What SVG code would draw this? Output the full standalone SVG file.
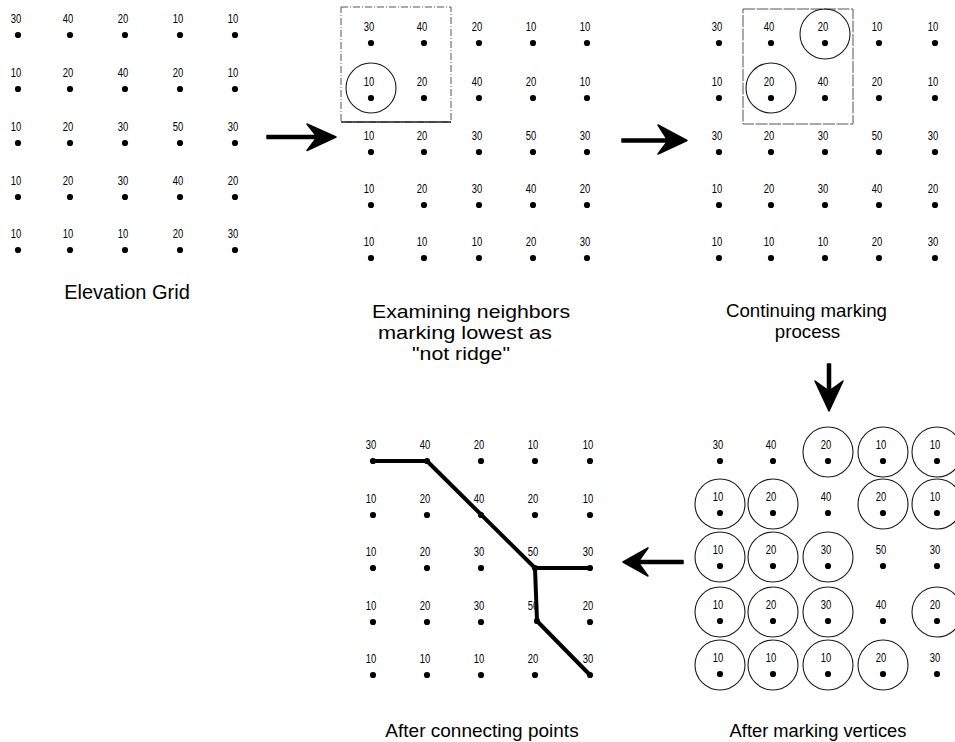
<svg xmlns="http://www.w3.org/2000/svg" width="955" height="742" viewBox="0 0 955 742">
  <style>
    text { font-family: "Liberation Sans", Arial, sans-serif; fill: #000; }
    .n { font-size: 12.5px; text-anchor: middle; }
    .cap { font-size: 19px; text-anchor: middle; }
    .d { fill: #000; }
    .mark { fill: none; stroke: #1a1a1a; stroke-width: 1.1; }
    .box { fill: none; stroke: #555; stroke-width: 1; stroke-dasharray: 7 2 1 2; }
    .ridge { fill: none; stroke: #000; stroke-width: 4; stroke-linecap: round; stroke-linejoin: round; }
    .arrow { fill: #000; stroke: #000; stroke-width: 1.5; stroke-linejoin: round; }
  </style>

  <!-- Grid 1: raw elevation values -->
  <g id="grid-elevation">
    <g class="vals">
      <text class="n" x="16" y="23" textLength="10.5" lengthAdjust="spacingAndGlyphs">30</text>
      <text class="n" x="68" y="23" textLength="10.5" lengthAdjust="spacingAndGlyphs">40</text>
      <text class="n" x="123" y="23" textLength="10.5" lengthAdjust="spacingAndGlyphs">20</text>
      <text class="n" x="178" y="23" textLength="10.5" lengthAdjust="spacingAndGlyphs">10</text>
      <text class="n" x="233" y="23" textLength="10.5" lengthAdjust="spacingAndGlyphs">10</text>
      <text class="n" x="16" y="77" textLength="10.5" lengthAdjust="spacingAndGlyphs">10</text>
      <text class="n" x="68" y="77" textLength="10.5" lengthAdjust="spacingAndGlyphs">20</text>
      <text class="n" x="123" y="77" textLength="10.5" lengthAdjust="spacingAndGlyphs">40</text>
      <text class="n" x="178" y="77" textLength="10.5" lengthAdjust="spacingAndGlyphs">20</text>
      <text class="n" x="233" y="77" textLength="10.5" lengthAdjust="spacingAndGlyphs">10</text>
      <text class="n" x="16" y="131" textLength="10.5" lengthAdjust="spacingAndGlyphs">10</text>
      <text class="n" x="68" y="131" textLength="10.5" lengthAdjust="spacingAndGlyphs">20</text>
      <text class="n" x="123" y="131" textLength="10.5" lengthAdjust="spacingAndGlyphs">30</text>
      <text class="n" x="178" y="131" textLength="10.5" lengthAdjust="spacingAndGlyphs">50</text>
      <text class="n" x="233" y="131" textLength="10.5" lengthAdjust="spacingAndGlyphs">30</text>
      <text class="n" x="16" y="185" textLength="10.5" lengthAdjust="spacingAndGlyphs">10</text>
      <text class="n" x="68" y="185" textLength="10.5" lengthAdjust="spacingAndGlyphs">20</text>
      <text class="n" x="123" y="185" textLength="10.5" lengthAdjust="spacingAndGlyphs">30</text>
      <text class="n" x="178" y="185" textLength="10.5" lengthAdjust="spacingAndGlyphs">40</text>
      <text class="n" x="233" y="185" textLength="10.5" lengthAdjust="spacingAndGlyphs">20</text>
      <text class="n" x="16" y="238" textLength="10.5" lengthAdjust="spacingAndGlyphs">10</text>
      <text class="n" x="68" y="238" textLength="10.5" lengthAdjust="spacingAndGlyphs">10</text>
      <text class="n" x="123" y="238" textLength="10.5" lengthAdjust="spacingAndGlyphs">10</text>
      <text class="n" x="178" y="238" textLength="10.5" lengthAdjust="spacingAndGlyphs">20</text>
      <text class="n" x="233" y="238" textLength="10.5" lengthAdjust="spacingAndGlyphs">30</text>
    </g>
    <g class="dots">
      <circle class="d" cx="18" cy="35" r="3.1"/><circle class="d" cx="70" cy="35" r="3.1"/><circle class="d" cx="125" cy="35" r="3.1"/><circle class="d" cx="180" cy="35" r="3.1"/><circle class="d" cx="235" cy="35" r="3.1"/>
      <circle class="d" cx="18" cy="89" r="3.1"/><circle class="d" cx="70" cy="89" r="3.1"/><circle class="d" cx="125" cy="89" r="3.1"/><circle class="d" cx="180" cy="89" r="3.1"/><circle class="d" cx="235" cy="89" r="3.1"/>
      <circle class="d" cx="18" cy="143" r="3.1"/><circle class="d" cx="70" cy="143" r="3.1"/><circle class="d" cx="125" cy="143" r="3.1"/><circle class="d" cx="180" cy="143" r="3.1"/><circle class="d" cx="235" cy="143" r="3.1"/>
      <circle class="d" cx="18" cy="197" r="3.1"/><circle class="d" cx="70" cy="197" r="3.1"/><circle class="d" cx="125" cy="197" r="3.1"/><circle class="d" cx="180" cy="197" r="3.1"/><circle class="d" cx="235" cy="197" r="3.1"/>
      <circle class="d" cx="18" cy="250" r="3.1"/><circle class="d" cx="70" cy="250" r="3.1"/><circle class="d" cx="125" cy="250" r="3.1"/><circle class="d" cx="180" cy="250" r="3.1"/><circle class="d" cx="235" cy="250" r="3.1"/>
    </g>
    <text class="cap" x="127" y="299" style="font-size:20px">Elevation Grid</text>
  </g>

  <!-- Grid 2: first 2x2 window, lowest point marked -->
  <g id="grid-examine">
    <rect class="box" x="341" y="7" width="110" height="115"/>
    <line x1="341" y1="122" x2="451" y2="122" stroke="#222" stroke-width="1.3"/>
    <circle class="mark" cx="371" cy="88" r="25"/>
    <g class="vals">
      <text class="n" x="369" y="31" textLength="10.5" lengthAdjust="spacingAndGlyphs">30</text>
      <text class="n" x="422" y="31" textLength="10.5" lengthAdjust="spacingAndGlyphs">40</text>
      <text class="n" x="477" y="31" textLength="10.5" lengthAdjust="spacingAndGlyphs">20</text>
      <text class="n" x="531" y="31" textLength="10.5" lengthAdjust="spacingAndGlyphs">10</text>
      <text class="n" x="585" y="31" textLength="10.5" lengthAdjust="spacingAndGlyphs">10</text>
      <text class="n" x="369" y="86" textLength="10.5" lengthAdjust="spacingAndGlyphs">10</text>
      <text class="n" x="422" y="86" textLength="10.5" lengthAdjust="spacingAndGlyphs">20</text>
      <text class="n" x="477" y="86" textLength="10.5" lengthAdjust="spacingAndGlyphs">40</text>
      <text class="n" x="531" y="86" textLength="10.5" lengthAdjust="spacingAndGlyphs">20</text>
      <text class="n" x="585" y="86" textLength="10.5" lengthAdjust="spacingAndGlyphs">10</text>
      <text class="n" x="369" y="140" textLength="10.5" lengthAdjust="spacingAndGlyphs">10</text>
      <text class="n" x="422" y="140" textLength="10.5" lengthAdjust="spacingAndGlyphs">20</text>
      <text class="n" x="477" y="140" textLength="10.5" lengthAdjust="spacingAndGlyphs">30</text>
      <text class="n" x="531" y="140" textLength="10.5" lengthAdjust="spacingAndGlyphs">50</text>
      <text class="n" x="585" y="140" textLength="10.5" lengthAdjust="spacingAndGlyphs">30</text>
      <text class="n" x="369" y="193" textLength="10.5" lengthAdjust="spacingAndGlyphs">10</text>
      <text class="n" x="422" y="193" textLength="10.5" lengthAdjust="spacingAndGlyphs">20</text>
      <text class="n" x="477" y="193" textLength="10.5" lengthAdjust="spacingAndGlyphs">30</text>
      <text class="n" x="531" y="193" textLength="10.5" lengthAdjust="spacingAndGlyphs">40</text>
      <text class="n" x="585" y="193" textLength="10.5" lengthAdjust="spacingAndGlyphs">20</text>
      <text class="n" x="369" y="246" textLength="10.5" lengthAdjust="spacingAndGlyphs">10</text>
      <text class="n" x="422" y="246" textLength="10.5" lengthAdjust="spacingAndGlyphs">10</text>
      <text class="n" x="477" y="246" textLength="10.5" lengthAdjust="spacingAndGlyphs">10</text>
      <text class="n" x="531" y="246" textLength="10.5" lengthAdjust="spacingAndGlyphs">20</text>
      <text class="n" x="585" y="246" textLength="10.5" lengthAdjust="spacingAndGlyphs">30</text>
    </g>
    <g class="dots">
      <circle class="d" cx="371" cy="98" r="3.1"/><circle class="d" cx="424" cy="98" r="3.1"/><circle class="d" cx="479" cy="98" r="3.1"/><circle class="d" cx="533" cy="98" r="3.1"/><circle class="d" cx="587" cy="98" r="3.1"/>
      <circle class="d" cx="371" cy="43" r="3.1"/><circle class="d" cx="424" cy="43" r="3.1"/><circle class="d" cx="479" cy="43" r="3.1"/><circle class="d" cx="533" cy="43" r="3.1"/><circle class="d" cx="587" cy="43" r="3.1"/>
      <circle class="d" cx="371" cy="152" r="3.1"/><circle class="d" cx="424" cy="152" r="3.1"/><circle class="d" cx="479" cy="152" r="3.1"/><circle class="d" cx="533" cy="152" r="3.1"/><circle class="d" cx="587" cy="152" r="3.1"/>
      <circle class="d" cx="371" cy="205" r="3.1"/><circle class="d" cx="424" cy="205" r="3.1"/><circle class="d" cx="479" cy="205" r="3.1"/><circle class="d" cx="533" cy="205" r="3.1"/><circle class="d" cx="587" cy="205" r="3.1"/>
      <circle class="d" cx="371" cy="258" r="3.1"/><circle class="d" cx="424" cy="258" r="3.1"/><circle class="d" cx="479" cy="258" r="3.1"/><circle class="d" cx="533" cy="258" r="3.1"/><circle class="d" cx="587" cy="258" r="3.1"/>
    </g>
    <text class="cap" x="471" y="318" textLength="198" lengthAdjust="spacingAndGlyphs">Examining neighbors</text>
    <text class="cap" x="465" y="339" textLength="174" lengthAdjust="spacingAndGlyphs">marking lowest as</text>
    <text class="cap" x="461" y="360" textLength="98" lengthAdjust="spacingAndGlyphs">"not ridge"</text>
  </g>

  <!-- Grid 3: window moved one column right -->
  <g id="grid-continue">
    <rect class="box" x="743" y="9" width="110" height="115" style="stroke-dasharray:12 1.5"/>
    <circle class="mark" cx="825" cy="34" r="25"/>
    <circle class="mark" cx="771" cy="88" r="25"/>
    <g class="vals">
      <text class="n" x="717" y="31" textLength="10.5" lengthAdjust="spacingAndGlyphs">30</text>
      <text class="n" x="769" y="31" textLength="10.5" lengthAdjust="spacingAndGlyphs">40</text>
      <text class="n" x="823" y="31" textLength="10.5" lengthAdjust="spacingAndGlyphs">20</text>
      <text class="n" x="877" y="31" textLength="10.5" lengthAdjust="spacingAndGlyphs">10</text>
      <text class="n" x="933" y="31" textLength="10.5" lengthAdjust="spacingAndGlyphs">10</text>
      <text class="n" x="717" y="86" textLength="10.5" lengthAdjust="spacingAndGlyphs">10</text>
      <text class="n" x="769" y="86" textLength="10.5" lengthAdjust="spacingAndGlyphs">20</text>
      <text class="n" x="823" y="86" textLength="10.5" lengthAdjust="spacingAndGlyphs">40</text>
      <text class="n" x="877" y="86" textLength="10.5" lengthAdjust="spacingAndGlyphs">20</text>
      <text class="n" x="933" y="86" textLength="10.5" lengthAdjust="spacingAndGlyphs">10</text>
      <text class="n" x="717" y="140" textLength="10.5" lengthAdjust="spacingAndGlyphs">30</text>
      <text class="n" x="769" y="140" textLength="10.5" lengthAdjust="spacingAndGlyphs">20</text>
      <text class="n" x="823" y="140" textLength="10.5" lengthAdjust="spacingAndGlyphs">30</text>
      <text class="n" x="877" y="140" textLength="10.5" lengthAdjust="spacingAndGlyphs">50</text>
      <text class="n" x="933" y="140" textLength="10.5" lengthAdjust="spacingAndGlyphs">30</text>
      <text class="n" x="717" y="193" textLength="10.5" lengthAdjust="spacingAndGlyphs">10</text>
      <text class="n" x="769" y="193" textLength="10.5" lengthAdjust="spacingAndGlyphs">20</text>
      <text class="n" x="823" y="193" textLength="10.5" lengthAdjust="spacingAndGlyphs">30</text>
      <text class="n" x="877" y="193" textLength="10.5" lengthAdjust="spacingAndGlyphs">40</text>
      <text class="n" x="933" y="193" textLength="10.5" lengthAdjust="spacingAndGlyphs">20</text>
      <text class="n" x="717" y="246" textLength="10.5" lengthAdjust="spacingAndGlyphs">10</text>
      <text class="n" x="769" y="246" textLength="10.5" lengthAdjust="spacingAndGlyphs">10</text>
      <text class="n" x="823" y="246" textLength="10.5" lengthAdjust="spacingAndGlyphs">10</text>
      <text class="n" x="877" y="246" textLength="10.5" lengthAdjust="spacingAndGlyphs">20</text>
      <text class="n" x="933" y="246" textLength="10.5" lengthAdjust="spacingAndGlyphs">30</text>
    </g>
    <g class="dots">
      <circle class="d" cx="719" cy="43" r="3.1"/><circle class="d" cx="771" cy="43" r="3.1"/><circle class="d" cx="825" cy="43" r="3.1"/><circle class="d" cx="879" cy="43" r="3.1"/><circle class="d" cx="935" cy="43" r="3.1"/>
      <circle class="d" cx="719" cy="98" r="3.1"/><circle class="d" cx="771" cy="98" r="3.1"/><circle class="d" cx="825" cy="98" r="3.1"/><circle class="d" cx="879" cy="98" r="3.1"/><circle class="d" cx="935" cy="98" r="3.1"/>
      <circle class="d" cx="719" cy="152" r="3.1"/><circle class="d" cx="771" cy="152" r="3.1"/><circle class="d" cx="825" cy="152" r="3.1"/><circle class="d" cx="879" cy="152" r="3.1"/><circle class="d" cx="935" cy="152" r="3.1"/>
      <circle class="d" cx="719" cy="205" r="3.1"/><circle class="d" cx="771" cy="205" r="3.1"/><circle class="d" cx="825" cy="205" r="3.1"/><circle class="d" cx="879" cy="205" r="3.1"/><circle class="d" cx="935" cy="205" r="3.1"/>
      <circle class="d" cx="719" cy="258" r="3.1"/><circle class="d" cx="771" cy="258" r="3.1"/><circle class="d" cx="825" cy="258" r="3.1"/><circle class="d" cx="879" cy="258" r="3.1"/><circle class="d" cx="935" cy="258" r="3.1"/>
    </g>
    <text class="cap" x="806.5" y="317" style="font-size:18.7px">Continuing marking</text>
    <text class="cap" x="807.5" y="338" style="font-size:18.7px">process</text>
  </g>

  <!-- Grid 5: every "not ridge" vertex circled -->
  <g id="grid-marked">
    <g class="marks">
      <circle class="mark" cx="828" cy="452" r="25"/><circle class="mark" cx="883" cy="452" r="25"/><circle class="mark" cx="937" cy="452" r="25"/>
      <circle class="mark" cx="720" cy="504" r="25"/><circle class="mark" cx="773" cy="504" r="25"/><circle class="mark" cx="883" cy="504" r="25"/><circle class="mark" cx="937" cy="504" r="25"/>
      <circle class="mark" cx="720" cy="557" r="25"/><circle class="mark" cx="773" cy="557" r="25"/><circle class="mark" cx="828" cy="557" r="25"/>
      <circle class="mark" cx="720" cy="612" r="25"/><circle class="mark" cx="773" cy="612" r="25"/><circle class="mark" cx="828" cy="612" r="25"/><circle class="mark" cx="937" cy="612" r="25"/>
      <circle class="mark" cx="720" cy="665" r="25"/><circle class="mark" cx="773" cy="665" r="25"/><circle class="mark" cx="828" cy="665" r="25"/><circle class="mark" cx="883" cy="665" r="25"/>
    </g>
    <g class="vals">
      <text class="n" x="718" y="449" textLength="10.5" lengthAdjust="spacingAndGlyphs">30</text>
      <text class="n" x="771" y="449" textLength="10.5" lengthAdjust="spacingAndGlyphs">40</text>
      <text class="n" x="826" y="449" textLength="10.5" lengthAdjust="spacingAndGlyphs">20</text>
      <text class="n" x="881" y="449" textLength="10.5" lengthAdjust="spacingAndGlyphs">10</text>
      <text class="n" x="935" y="449" textLength="10.5" lengthAdjust="spacingAndGlyphs">10</text>
      <text class="n" x="718" y="501" textLength="10.5" lengthAdjust="spacingAndGlyphs">10</text>
      <text class="n" x="771" y="501" textLength="10.5" lengthAdjust="spacingAndGlyphs">20</text>
      <text class="n" x="826" y="501" textLength="10.5" lengthAdjust="spacingAndGlyphs">40</text>
      <text class="n" x="881" y="501" textLength="10.5" lengthAdjust="spacingAndGlyphs">20</text>
      <text class="n" x="935" y="501" textLength="10.5" lengthAdjust="spacingAndGlyphs">10</text>
      <text class="n" x="718" y="554" textLength="10.5" lengthAdjust="spacingAndGlyphs">10</text>
      <text class="n" x="771" y="554" textLength="10.5" lengthAdjust="spacingAndGlyphs">20</text>
      <text class="n" x="826" y="554" textLength="10.5" lengthAdjust="spacingAndGlyphs">30</text>
      <text class="n" x="881" y="554" textLength="10.5" lengthAdjust="spacingAndGlyphs">50</text>
      <text class="n" x="935" y="554" textLength="10.5" lengthAdjust="spacingAndGlyphs">30</text>
      <text class="n" x="718" y="609" textLength="10.5" lengthAdjust="spacingAndGlyphs">10</text>
      <text class="n" x="771" y="609" textLength="10.5" lengthAdjust="spacingAndGlyphs">20</text>
      <text class="n" x="826" y="609" textLength="10.5" lengthAdjust="spacingAndGlyphs">30</text>
      <text class="n" x="881" y="609" textLength="10.5" lengthAdjust="spacingAndGlyphs">40</text>
      <text class="n" x="935" y="609" textLength="10.5" lengthAdjust="spacingAndGlyphs">20</text>
      <text class="n" x="718" y="662" textLength="10.5" lengthAdjust="spacingAndGlyphs">10</text>
      <text class="n" x="771" y="662" textLength="10.5" lengthAdjust="spacingAndGlyphs">10</text>
      <text class="n" x="826" y="662" textLength="10.5" lengthAdjust="spacingAndGlyphs">10</text>
      <text class="n" x="881" y="662" textLength="10.5" lengthAdjust="spacingAndGlyphs">20</text>
      <text class="n" x="935" y="662" textLength="10.5" lengthAdjust="spacingAndGlyphs">30</text>
    </g>
    <g class="dots">
      <circle class="d" cx="720" cy="461" r="3.1"/><circle class="d" cx="773" cy="461" r="3.1"/><circle class="d" cx="828" cy="461" r="3.1"/><circle class="d" cx="883" cy="461" r="3.1"/><circle class="d" cx="937" cy="461" r="3.1"/>
      <circle class="d" cx="720" cy="513" r="3.1"/><circle class="d" cx="773" cy="513" r="3.1"/><circle class="d" cx="828" cy="513" r="3.1"/><circle class="d" cx="883" cy="513" r="3.1"/><circle class="d" cx="937" cy="513" r="3.1"/>
      <circle class="d" cx="720" cy="566" r="3.1"/><circle class="d" cx="773" cy="566" r="3.1"/><circle class="d" cx="828" cy="566" r="3.1"/><circle class="d" cx="883" cy="566" r="3.1"/><circle class="d" cx="937" cy="566" r="3.1"/>
      <circle class="d" cx="720" cy="621" r="3.1"/><circle class="d" cx="773" cy="621" r="3.1"/><circle class="d" cx="828" cy="621" r="3.1"/><circle class="d" cx="883" cy="621" r="3.1"/><circle class="d" cx="937" cy="621" r="3.1"/>
      <circle class="d" cx="720" cy="674" r="3.1"/><circle class="d" cx="773" cy="674" r="3.1"/><circle class="d" cx="828" cy="674" r="3.1"/><circle class="d" cx="883" cy="674" r="3.1"/><circle class="d" cx="937" cy="674" r="3.1"/>
    </g>
    <text class="cap" x="818" y="737" style="font-size:18.3px">After marking vertices</text>
  </g>

  <!-- Grid 4: unmarked vertices joined into the ridge line -->
  <g id="grid-connected">
    <g class="vals">
      <text class="n" x="371" y="449" textLength="10.5" lengthAdjust="spacingAndGlyphs">30</text>
      <text class="n" x="425" y="449" textLength="10.5" lengthAdjust="spacingAndGlyphs">40</text>
      <text class="n" x="479" y="449" textLength="10.5" lengthAdjust="spacingAndGlyphs">20</text>
      <text class="n" x="533" y="449" textLength="10.5" lengthAdjust="spacingAndGlyphs">10</text>
      <text class="n" x="588" y="449" textLength="10.5" lengthAdjust="spacingAndGlyphs">10</text>
      <text class="n" x="371" y="503" textLength="10.5" lengthAdjust="spacingAndGlyphs">10</text>
      <text class="n" x="425" y="503" textLength="10.5" lengthAdjust="spacingAndGlyphs">20</text>
      <text class="n" x="479" y="503" textLength="10.5" lengthAdjust="spacingAndGlyphs">40</text>
      <text class="n" x="533" y="503" textLength="10.5" lengthAdjust="spacingAndGlyphs">20</text>
      <text class="n" x="588" y="503" textLength="10.5" lengthAdjust="spacingAndGlyphs">10</text>
      <text class="n" x="371" y="556" textLength="10.5" lengthAdjust="spacingAndGlyphs">10</text>
      <text class="n" x="425" y="556" textLength="10.5" lengthAdjust="spacingAndGlyphs">20</text>
      <text class="n" x="479" y="556" textLength="10.5" lengthAdjust="spacingAndGlyphs">30</text>
      <text class="n" x="533" y="556" textLength="10.5" lengthAdjust="spacingAndGlyphs">50</text>
      <text class="n" x="588" y="556" textLength="10.5" lengthAdjust="spacingAndGlyphs">30</text>
      <text class="n" x="371" y="610" textLength="10.5" lengthAdjust="spacingAndGlyphs">10</text>
      <text class="n" x="425" y="610" textLength="10.5" lengthAdjust="spacingAndGlyphs">20</text>
      <text class="n" x="479" y="610" textLength="10.5" lengthAdjust="spacingAndGlyphs">30</text>
      <text class="n" x="533" y="610" textLength="10.5" lengthAdjust="spacingAndGlyphs">50</text>
      <text class="n" x="588" y="610" textLength="10.5" lengthAdjust="spacingAndGlyphs">20</text>
      <text class="n" x="371" y="663" textLength="10.5" lengthAdjust="spacingAndGlyphs">10</text>
      <text class="n" x="425" y="663" textLength="10.5" lengthAdjust="spacingAndGlyphs">10</text>
      <text class="n" x="479" y="663" textLength="10.5" lengthAdjust="spacingAndGlyphs">10</text>
      <text class="n" x="533" y="663" textLength="10.5" lengthAdjust="spacingAndGlyphs">20</text>
      <text class="n" x="588" y="663" textLength="10.5" lengthAdjust="spacingAndGlyphs">30</text>
    </g>
    <polyline class="ridge" points="373,461 427,461 535,568 590,568"/>
    <polyline class="ridge" points="535,568 537,621 590,675"/>
    <g class="dots">
      <circle class="d" cx="373" cy="461" r="3.1"/><circle class="d" cx="427" cy="461" r="3.1"/><circle class="d" cx="481" cy="461" r="3.1"/><circle class="d" cx="535" cy="461" r="3.1"/><circle class="d" cx="590" cy="461" r="3.1"/>
      <circle class="d" cx="373" cy="515" r="3.1"/><circle class="d" cx="427" cy="515" r="3.1"/><circle class="d" cx="481" cy="515" r="3.1"/><circle class="d" cx="535" cy="515" r="3.1"/><circle class="d" cx="590" cy="515" r="3.1"/>
      <circle class="d" cx="373" cy="568" r="3.1"/><circle class="d" cx="427" cy="568" r="3.1"/><circle class="d" cx="481" cy="568" r="3.1"/><circle class="d" cx="535" cy="568" r="3.1"/><circle class="d" cx="590" cy="568" r="3.1"/>
      <circle class="d" cx="373" cy="622" r="3.1"/><circle class="d" cx="427" cy="622" r="3.1"/><circle class="d" cx="481" cy="622" r="3.1"/><circle class="d" cx="537" cy="621" r="3.1"/><circle class="d" cx="590" cy="622" r="3.1"/>
      <circle class="d" cx="373" cy="675" r="3.1"/><circle class="d" cx="427" cy="675" r="3.1"/><circle class="d" cx="481" cy="675" r="3.1"/><circle class="d" cx="535" cy="675" r="3.1"/><circle class="d" cx="590" cy="675" r="3.1"/>
    </g>
    <text class="cap" x="482" y="737">After connecting points</text>
  </g>

  <!-- Step arrows -->
  <g id="connectors">
    <path class="arrow" d="M267,135.5 H316 L307,124 L336,137 L307,150.5 L316,138.5 H267 Z"/>
    <path class="arrow" d="M622,139 H667 L658,125 L687,140.5 L658,154 L667,142 H622 Z"/>
    <path class="arrow" d="M827.5,364 V390 L815,381 L829,411 L843,381 L830.5,390 V364 Z"/>
    <path class="arrow" d="M683,560.5 H639 L648,548 L623,562 L648,576 L639,563.5 H683 Z"/>
  </g>
</svg>
